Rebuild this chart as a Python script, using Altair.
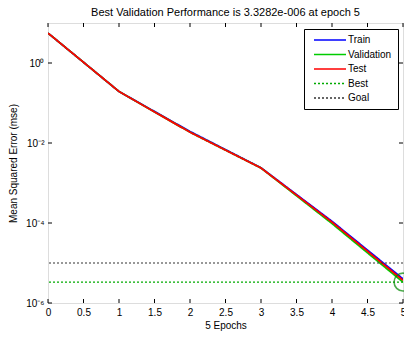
import altair as alt
import pandas as pd

# ---- data ----
epochs = [0, 1, 2, 3, 4, 5]
train = [5.6, 0.194, 0.0194, 0.00240, 1.1e-4, 4.0e-6]
validation = [5.6, 0.194, 0.0186, 0.00237, 0.97e-4, 3.3282e-6]
test = [5.6, 0.194, 0.0186, 0.00237, 1.05e-4, 3.7e-6]
series_names = ["Train", "Validation", "Test", "Best", "Goal"]
series_colors = ["#0000ff", "#00cc00", "#ff0000", "#00aa00", "#333333"]
series_dash = [[1, 0], [1, 0], [1, 0], [2, 2], [2, 2]]
best_value = 3.3282e-6
goal_value = 1e-5
best_epoch = 5
x_ticks = [0, 0.5, 1, 1.5, 2, 2.5, 3, 3.5, 4, 4.5, 5]
y_ticks = [1e-6, 1e-4, 1e-2, 1]
y_tick_labels = ["10\u207b\u2076", "10\u207b\u2074", "10\u207b\u00b2", "10\u2070"]

W, H = 355, 280
FONT = "Liberation Sans"

rows = []
for name, vals in [("Train", train), ("Validation", validation), ("Test", test)]:
    for e, v in zip(epochs, vals):
        rows.append({"epoch": e, "mse": v, "series": name})
lines_df = pd.DataFrame(rows)
rules_df = pd.DataFrame({"mse": [best_value, goal_value], "series": ["Best", "Goal"]})
best_df = pd.DataFrame({"epoch": [best_epoch], "mse": [best_value]})
xt_df = pd.DataFrame({"t": x_ticks})
yt_df = pd.DataFrame({"t": y_ticks})

label_expr = " : ".join(
    f"datum.value < {v * 1.5} ? '{l}'" for v, l in zip(y_ticks, y_tick_labels)
) + " : ''"

xscale = alt.Scale(domain=[0, 5], nice=False, zero=False)
yscale = alt.Scale(type="log", domain=[1e-6, 10], nice=False)
color_scale = alt.Scale(domain=series_names, range=series_colors)
dash_scale = alt.Scale(domain=series_names, range=series_dash)

legend = alt.Legend(
    title=None, orient="none", legendX=256, legendY=6,
    symbolType="M-0.25,0H7.75", symbolSize=64, symbolStrokeWidth=1.6,
    labelFont=FONT, labelFontSize=10, labelColor="black",
    strokeColor="black", fillColor="white", padding=6, rowPadding=4.5,
    labelOffset=28, labelLimit=200,
)

x_axis = alt.Axis(
    values=x_ticks, labelExpr="format(datum.value, '~g')", ticks=False,
    domain=False, grid=False, tickCount=11,
    labelOverlap=False, labelFlush=False,
    labelFont=FONT, labelFontSize=10, labelColor="black", labelPadding=4,
    title="5 Epochs", titleFont=FONT, titleFontSize=10, titleFontWeight="normal",
    titleColor="black", titleY=22, titleBaseline="middle",
)
y_axis = alt.Axis(
    values=y_ticks, labelExpr=label_expr, ticks=False, domain=False, grid=False,
    labelOverlap=False, labelFlush=False,
    labelFont=FONT, labelFontSize=10, labelColor="black", labelPadding=4,
    title="Mean Squared Error  (mse)", titleFont=FONT, titleFontSize=10,
    titleFontWeight="normal", titleColor="black", titleAngle=-90,
    titleX=-35, titleY=H / 2, titleAlign="center", titleBaseline="middle",
)

X = lambda f: alt.X(f, scale=xscale, axis=x_axis)
Y = lambda f: alt.Y(f, scale=yscale, axis=y_axis)

lines = alt.Chart(lines_df).mark_line(strokeWidth=1.8, clip=True).encode(
    x=X("epoch:Q"),
    y=Y("mse:Q"),
    color=alt.Color("series:N", scale=color_scale, legend=legend, sort=series_names),
    strokeDash=alt.StrokeDash("series:N", scale=dash_scale, legend=legend, sort=series_names),
    order=alt.Order("epoch:Q"),
)

rules = alt.Chart(rules_df).mark_rule(strokeWidth=1.2).encode(
    y=Y("mse:Q"),
    color=alt.Color("series:N", scale=color_scale, legend=legend, sort=series_names),
    strokeDash=alt.StrokeDash("series:N", scale=dash_scale, legend=legend, sort=series_names),
)

circle = alt.Chart(best_df).mark_point(
    shape="circle", size=320, filled=False, color="#008800", strokeWidth=1.6
).encode(x=X("epoch:Q"), y=Y("mse:Q"))

tick_style = dict(color="black", strokeWidth=1)
xt_bottom = alt.Chart(xt_df).mark_rule(**tick_style).encode(
    x=X("t:Q"), y=alt.value(H), y2=alt.value(H - 4))
xt_top = alt.Chart(xt_df).mark_rule(**tick_style).encode(
    x=X("t:Q"), y=alt.value(0), y2=alt.value(4))
yt_left = alt.Chart(yt_df).mark_rule(**tick_style).encode(
    y=Y("t:Q"), x=alt.value(0), x2=alt.value(4))
yt_right = alt.Chart(yt_df).mark_rule(**tick_style).encode(
    y=Y("t:Q"), x=alt.value(W), x2=alt.value(W - 4))

chart = alt.layer(
    lines, rules, circle, xt_bottom, xt_top, yt_left, yt_right
).properties(
    width=W, height=H,
    title=alt.TitleParams(
        "Best Validation Performance is 3.3282e-006 at epoch 5",
        font=FONT, fontSize=11, fontWeight="normal", color="black",
        anchor="middle", offset=5,
    ),
    autosize=alt.AutoSizeParams(type="none"),
    padding={"left": 48, "top": 23, "right": 1, "bottom": 34},
).configure_view(stroke="black", strokeWidth=1.2).configure(background="white")

chart.save("out.html", embed_options={"renderer": "svg", "actions": False})
